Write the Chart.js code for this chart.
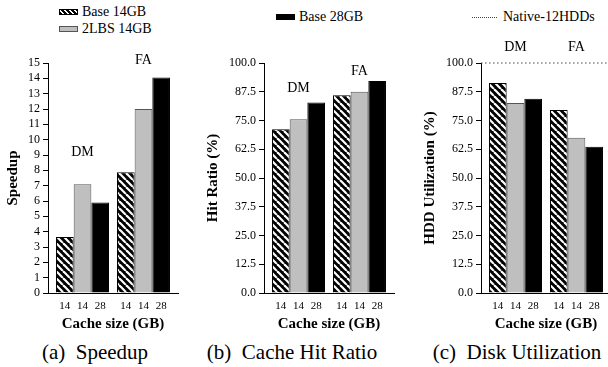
<!DOCTYPE html>
<html>
<head>
<meta charset="utf-8">
<script src="https://cdn.jsdelivr.net/npm/chart.js@4"></script>
<style>
  html, body { margin: 0; padding: 0; background: #fff; }
  body { position: relative; width: 608px; height: 367px; overflow: hidden; font-family: 'Liberation Serif', 'Times New Roman', serif; color: #000; }
  .plot { position: absolute; top: 40px; }
  .lg { position: absolute; font-size: 14px; line-height: 16px; white-space: nowrap; }
  .sw { display: inline-block; width: 17px; height: 4px; border: 1px solid #000; vertical-align: middle; margin: -2px 4px 0 0; }
  .dots { display: inline-block; width: 25px; border-top: 1px dotted #444; vertical-align: middle; margin: 0 6px 0 0; }
  .cap { position: absolute; top: 340px; font-size: 21px; line-height: 25px; white-space: pre; transform: translateX(-50%); }
</style>
</head>
<body>

<div class="lg" style="left:59px; top:4px"><span class="sw" style="background:repeating-linear-gradient(45deg,#000 0 2px,#fff 2px 3.5px)"></span>Base 14GB</div>
<div class="lg" style="left:59px; top:21px"><span class="sw" style="background:#bfbfbf; border-color:#555"></span>2LBS 14GB</div>
<div class="lg" style="left:276px; top:9px"><span class="sw" style="background:#000"></span>Base 28GB</div>
<div class="lg" style="left:472px; top:9px"><span class="dots"></span>Native-12HDDs</div>

<canvas id="speedup" class="plot" style="left:0px" width="180" height="293"></canvas>
<canvas id="hitratio" class="plot" style="left:200px" width="197" height="293"></canvas>
<canvas id="hddutil" class="plot" style="left:417px" width="200" height="293"></canvas>

<div class="cap" style="left:95px">(a)  Speedup</div>
<div class="cap" style="left:292px">(b)  Cache Hit Ratio</div>
<div class="cap" style="left:517px">(c)  Disk Utilization</div>

<script>
const groups = ['DM', 'FA'];
const seriesNames = ['Base 14GB', '2LBS 14GB', 'Base 28GB'];
const sizeLabels = ['14', '14', '28'];

const speedupBase14 = [3.65, 7.87];
const speedupLbs14 = [7.1, 12.0];
const speedupBase28 = [5.9, 14.05];

const hitBase14 = [71.2, 86.0];
const hitLbs14 = [75.5, 87.5];
const hitBase28 = [82.8, 92.2];

const utilBase14 = [91.3, 79.6];
const utilLbs14 = [82.6, 67.5];
const utilBase28 = [84.5, 63.6];
const nativeUtil = 100;

const FONT = "'Liberation Serif', 'Times New Roman', serif";
const X_MIN = 0.434, X_MAX = 2.566;

function hatch() {
    const c = document.createElement('canvas');
    c.width = c.height = 7;
    const g = c.getContext('2d');
    g.fillStyle = '#000';
    g.fillRect(0, 0, 7, 7);
    g.strokeStyle = '#fff';
    g.lineWidth = 2.2;
    for (const o of [-7, 0, 7]) {
        g.beginPath();
        g.moveTo(o, 0);
        g.lineTo(o + 7, 7);
        g.stroke();
    }
    return g.createPattern(c, 'repeat');
}
const stripes = hatch();

const toPoints = vals => vals.map((v, i) => ({ x: i + 1, y: v }));

// size labels under each bar + DM / FA tags
const barLabels = {
    id: 'barLabels',
    afterDatasetsDraw(chart, args, opts) {
        const ctx = chart.ctx;
        const bottom = chart.chartArea.bottom;
        ctx.save();
        ctx.fillStyle = '#000';
        ctx.textAlign = 'center';
        ctx.textBaseline = 'middle';
        ctx.font = '11px ' + FONT;
        chart.data.datasets.forEach((ds, i) => {
            if (ds.type === 'line') return;
            chart.getDatasetMeta(i).data.forEach(bar => ctx.fillText(sizeLabels[i], bar.x, bottom + 13.5));
        });
        ctx.font = '14px ' + FONT;
        const x = chart.scales.x, y = chart.scales.y;
        groups.forEach((g, i) => ctx.fillText(g, x.getPixelForValue(i + 1), y.getPixelForValue(opts.tagY[i])));
        ctx.restore();
    }
};

function makeChart(id, series, yCfg, extra) {
    const datasets = [
        { label: seriesNames[0], data: toPoints(series[0]), backgroundColor: stripes, borderColor: '#000', borderWidth: 1 },
        { label: seriesNames[1], data: toPoints(series[1]), backgroundColor: '#bfbfbf', borderColor: '#555', borderWidth: 1 },
        { label: seriesNames[2], data: toPoints(series[2]), backgroundColor: '#000', borderColor: '#000', borderWidth: 1 }
    ].concat(extra.lines || []);

    return new Chart(document.getElementById(id), {
        type: 'bar',
        data: { datasets },
        plugins: [barLabels],
        options: {
            responsive: false,
            animation: false,
            layout: { padding: { top: 23, right: extra.padRight, left: 0, bottom: 0 } },
            categoryPercentage: 53 / 61,
            barPercentage: 1,
            plugins: {
                legend: { display: false },
                tooltip: { enabled: false },
                barLabels: { tagY: extra.tagY }
            },
            scales: {
                x: {
                    type: 'linear',
                    offset: false,
                    min: X_MIN,
                    max: X_MAX,
                    ticks: { display: false, stepSize: 1, includeBounds: false },
                    grid: { display: false, offset: false },
                    border: { display: true, color: '#000', width: 1 },
                    title: { display: true, text: 'Cache size (GB)', color: '#000', font: { family: FONT, size: 15, weight: 'bold' }, padding: 0 },
                    afterFit: s => { s.height = 40; }
                },
                y: {
                    min: 0,
                    max: yCfg.max,
                    ticks: {
                        stepSize: yCfg.step,
                        autoSkip: false,
                        color: '#000',
                        padding: 3,
                        font: { family: FONT, size: 12 },
                        callback: yCfg.fmt
                    },
                    grid: { display: true, drawOnChartArea: false, drawTicks: true, tickLength: 5, color: '#000' },
                    border: { display: true, color: '#000', width: 1 },
                    title: { display: true, text: yCfg.title, color: '#000', font: { family: FONT, size: 15, weight: 'bold' }, padding: { top: 4, bottom: 0 } },
                    afterFit: s => { s.width = yCfg.width; }
                }
            }
        }
    });
}

makeChart('speedup', [speedupBase14, speedupLbs14, speedupBase28],
    { max: 15, step: 1, title: 'Speedup', width: 48, fmt: v => v },
    { padRight: 2, tagY: [9.2, 15.15] });

makeChart('hitratio', [hitBase14, hitLbs14, hitBase28],
    { max: 100, step: 12.5, title: 'Hit Ratio (%)', width: 64, fmt: v => v.toFixed(1) },
    { padRight: 3, tagY: [89.1, 96.5] });

makeChart('hddutil', [utilBase14, utilLbs14, utilBase28],
    { max: 100, step: 12.5, title: 'HDD Utilization (%)', width: 64, fmt: v => v.toFixed(1) },
    {
        padRight: 6,
        tagY: [107, 107],
        lines: [{
            type: 'line',
            label: 'Native-12HDDs',
            data: [{ x: X_MIN, y: nativeUtil }, { x: X_MAX, y: nativeUtil }],
            borderColor: '#444',
            borderWidth: 1,
            borderDash: [1.5, 2.5],
            pointRadius: 0,
            clip: 4
        }]
    });
</script>
</body>
</html>
